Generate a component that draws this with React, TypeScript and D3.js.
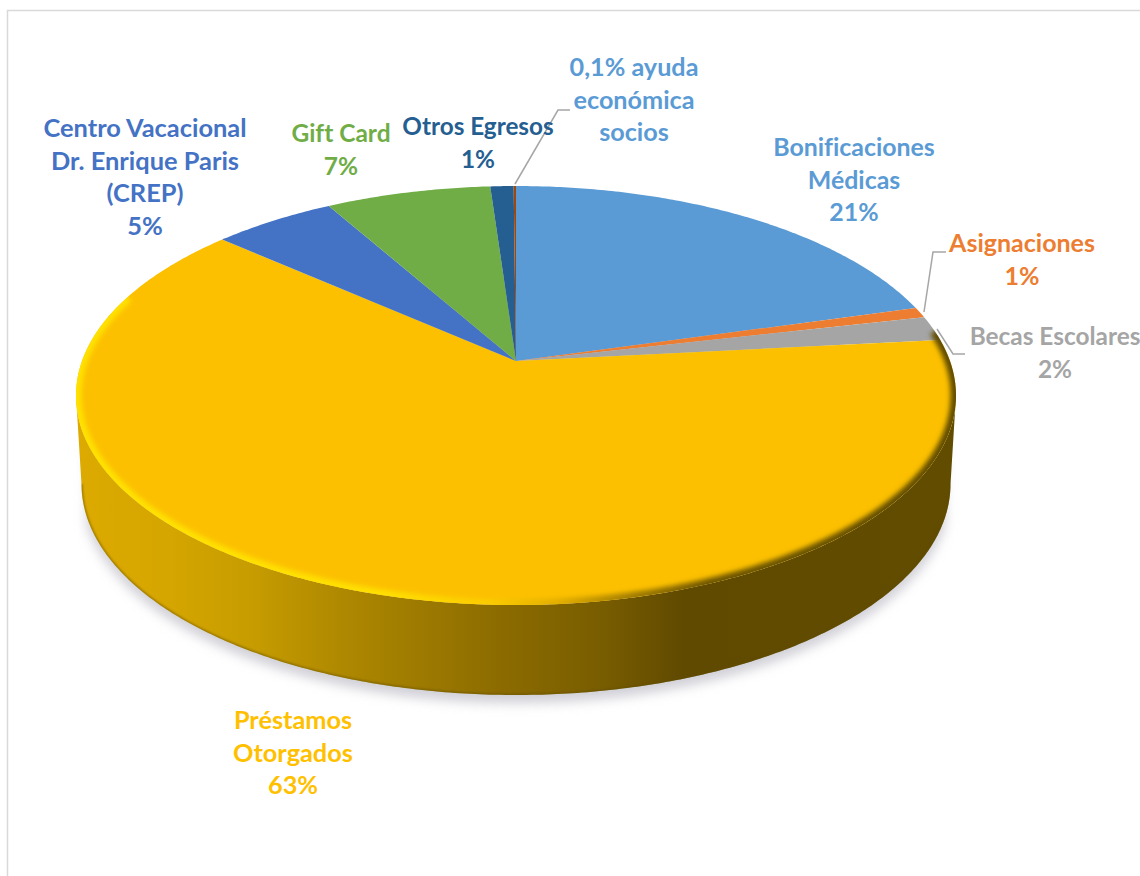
import React from "react";
import * as d3 from "d3";

const categories = ["Bonificaciones Médicas", "Asignaciones", "Becas Escolares", "Préstamos Otorgados", "Centro Vacacional Dr. Enrique Paris (CREP)", "Gift Card", "Otros Egresos", "0,1% ayuda económica socios"];
const values = [20.6, 0.8, 1.9, 63.1, 5.3, 7.1, 1.0, 0.1];
const sliceColors = ["#5b9bd5", "#ed7d31", "#a5a5a5", "#fcc000", "#4472c4", "#70ad47", "#255e91", "#9e480e"];

const labelLines = [
  ["Bonificaciones", "Médicas", "21%"],
  ["Asignaciones", "1%"],
  ["Becas Escolares", "2%"],
  ["Préstamos", "Otorgados", "63%"],
  ["Centro Vacacional", "Dr. Enrique Paris", "(CREP)", "5%"],
  ["Gift Card", "7%"],
  ["Otros Egresos", "1%"],
  ["0,1% ayuda", "económica", "socios"],
];
const labelColors = ["#5b9bd5", "#ed7d31", "#a5a5a5", "#ffc000", "#4472c4", "#70ad47", "#255e91", "#5b9bd5"];
const labelSizes = [24.9, 25, 24.4, 25.3, 25.4, 24.5, 24.3, 25.2];
const labelAnchors: [number, number][] = [
  [854, 156], [1022, 252], [1055, 345], [293, 729], [145, 137], [341, 142], [478, 135], [634, 76],
];
const leaders: [number, number][][] = [
  [[515, 184], [558, 110], [570, 110]],
  [[924, 312], [933, 252], [946, 252]],
  [[937, 329], [953, 354], [965, 354]],
];

const W = 1140, H = 876;
const CX = 516, APEX_Y = 361, RX = 434, RY = 203.8, K = 0.1647;
const BOTTOM_CY = 484, BOTTOM_RX = 434.5, BOTTOM_RY = 211;

const project = (a: number): [number, number] => {
  const u = Math.sin(a), v = -Math.cos(a), w = 1 - K * v;
  return [CX + (RX * u) / w, APEX_Y + (RY * v) / w];
};
const projectBottom = (a: number): [number, number] => {
  const [x] = project(a);
  const t = (x - CX) / 440;
  const lower = Math.cos(a) < 0 ? 1 : -1;
  return [CX + t * BOTTOM_RX, BOTTOM_CY + lower * BOTTOM_RY * Math.sqrt(Math.max(0, 1 - t * t))];
};

const line = d3.line();
const arcPoints = (a0: number, a1: number, f = project) => {
  const n = Math.max(2, Math.ceil(Math.abs(a1 - a0) / 0.01));
  return d3.range(n + 1).map((i) => f(a0 + ((a1 - a0) * i) / n));
};

const pie = d3.pie<number>().sort(null)(values);

const sliceD = (a0: number, a1: number) =>
  (line([[CX, APEX_Y], ...arcPoints(a0, a1)]) as string) + "Z";

const rightA = Math.PI / 2 + Math.asin(K);
const leftA = 2 * Math.PI - rightA;

const wallD =
  (line([...arcPoints(rightA, leftA), ...arcPoints(leftA, rightA, projectBottom)]) as string) + "Z";
const wallEdgeD = line(arcPoints(rightA, leftA, projectBottom)) as string;
const topOutlineD = (line(arcPoints(0, 2 * Math.PI)) as string) + "Z";
const rimD = line(arcPoints(1.42, 5.05)) as string;
const shadowD = (line(arcPoints(0, 2 * Math.PI, projectBottom)) as string) + "Z";

const wallStops: [number, string][] = [
  [0, "#dcaa00"], [0.1, "#d6a600"], [0.2, "#c69c00"], [0.31, "#ad8700"], [0.48, "#8c6c00"],
  [0.6, "#785c00"], [0.69, "#604a00"], [1, "#614c00"],
];
const rimStops: [number, string][] = [
  [0, "#ffe200"], [0.35, "#ffe000"], [0.47, "#fbcc00"], [0.55, "#e0ac00"], [0.62, "#a88200"], [0.72, "#6e5600"], [1, "#614c00"],
];

const FONT = "Lato, Carlito, 'Open Sans', sans-serif";

export default function App() {
  return (
    <svg width={W} height={H} viewBox={`0 0 ${W} ${H}`} style={{ position: "absolute", left: 0, top: 0, background: "#fff" }}>
      <defs>
        <linearGradient id="wall" gradientUnits="userSpaceOnUse" x1={76} x2={956} y1={0} y2={0}>
          {wallStops.map(([o, c]) => <stop key={o} offset={o} stopColor={c} />)}
        </linearGradient>
        <linearGradient id="rim" gradientUnits="userSpaceOnUse" x1={76} x2={956} y1={0} y2={0}>
          {rimStops.map(([o, c]) => <stop key={o} offset={o} stopColor={c} />)}
        </linearGradient>
        <filter id="blurShadow" x="-10%" y="-10%" width="120%" height="120%"><feGaussianBlur stdDeviation="6" /></filter>
        <filter id="blurRim" x="-10%" y="-10%" width="120%" height="120%"><feGaussianBlur stdDeviation="2.6" /></filter>
        <filter id="blurEdge" x="-10%" y="-10%" width="120%" height="120%"><feGaussianBlur stdDeviation="0.8" /></filter>
        <clipPath id="topClip"><path d={topOutlineD} /></clipPath>
        <clipPath id="wallClip"><path d={wallD} /></clipPath>
      </defs>

      <path d={`M7.5 876V10.5H${W}`} fill="none" stroke="#d9d9d9" strokeWidth={1.5} />

      <path d={shadowD} transform="translate(0 8)" fill="#cfcfd6" filter="url(#blurShadow)" />
      <path d={wallD} fill="url(#wall)" />
      <g clipPath="url(#wallClip)">
        <path d={wallEdgeD} fill="none" stroke="#5f4a00" strokeOpacity={0.55} strokeWidth={2.5} filter="url(#blurEdge)" />
      </g>

      {pie.map((p, i) => (
        <path key={categories[i]} d={sliceD(p.startAngle, p.endAngle)} fill={sliceColors[i]} />
      ))}
      <g clipPath="url(#topClip)">
        <path d={rimD} fill="none" stroke="url(#rim)" strokeWidth={11} filter="url(#blurRim)" />
      </g>

      {leaders.map((pts, i) => (
        <path key={i} d={line(pts) as string} fill="none" stroke="#a6a6a6" strokeWidth={1.5} />
      ))}

      {labelLines.map((lines, i) => (
        <text key={categories[i]} x={labelAnchors[i][0]} y={labelAnchors[i][1]} textAnchor="middle" fontFamily={FONT} fontWeight={700} fontSize={labelSizes[i]} fill={labelColors[i]} style={{ fontVariantLigatures: "none" }}>
          {lines.map((l, j) => <tspan key={j} x={labelAnchors[i][0]} dy={j === 0 ? 0 : 32.6}>{l}</tspan>)}
        </text>
      ))}
    </svg>
  );
}
